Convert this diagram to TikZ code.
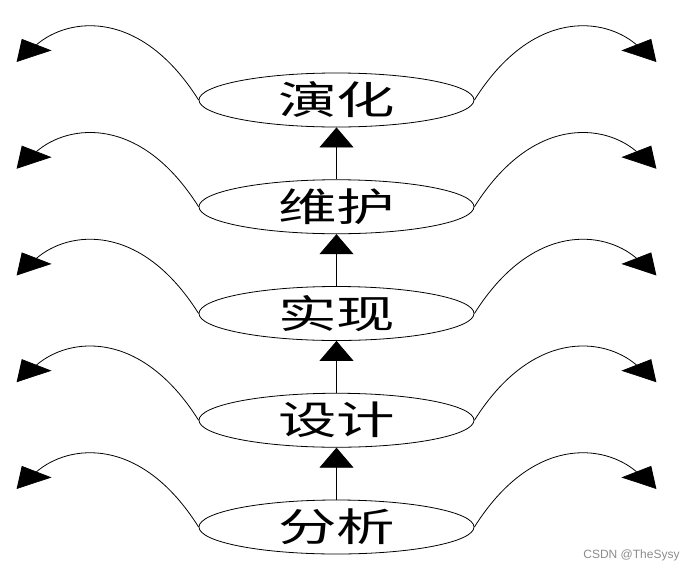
\documentclass[tikz,border=0pt]{standalone}
\usepackage{fontspec}
\usepackage{graphicx}
\newfontfamily\cjk{Noto Sans CJK SC}
\newfontfamily\wmfont{Liberation Sans}
\usetikzlibrary{shapes.geometric,arrows.meta,calc}
\newcommand{\stagetext}[1]{\scalebox{1.5}[1]{#1}}
\begin{document}
\begin{tikzpicture}[x=1pt,y=-1pt,
  stage/.style={ellipse,draw,line width=0.8pt,minimum width=275pt,minimum height=54pt,inner sep=0pt,font=\cjk\fontsize{39}{39}\selectfont},
  uparrow/.style={draw,line width=0.8pt,-{Triangle[length=20pt,width=34pt]}},
  leftarrow/.style={draw,line width=0.8pt,-{Triangle[length=26.5pt,width=28pt,slant=-0.53]}},
  rightarrow/.style={draw,line width=0.8pt,-{Triangle[length=26.5pt,width=28pt,slant=0.53]}},
  watermark/.style={font=\wmfont\fontsize{12}{12}\selectfont,text=black!45}]
\useasboundingbox (0,0) rectangle (694,571);
\node[stage] (a) at (336.5,527) {\stagetext{分析}};
\node[stage] (b) at (336.5,420.25) {\stagetext{设计}};
\node[stage] (c) at (336.5,313.5) {\stagetext{实现}};
\node[stage] (d) at (336.5,206.75) {\stagetext{维护}};
\node[stage] (e) at (336.5,100) {\stagetext{演化}};
\draw[uparrow] (a.north) -- (b.south);
\draw[uparrow] (b.north) -- (c.south);
\draw[uparrow] (c.north) -- (d.south);
\draw[uparrow] (d.north) -- (e.south);
\foreach \n in {a,b,c,d,e}{
  \coordinate (\n L) at ($(\n.west)+(-182,-38)$);
  \coordinate (\n R) at ($(\n.east)+(182,-38)$);
  \draw[leftarrow] (\n.west) .. controls ($(\n.west)+(-58,-92)$) and ($(\n L)+(52,-45)$) .. (\n L);
  \draw[rightarrow] (\n.east) .. controls ($(\n.east)+(58,-92)$) and ($(\n R)+(-52,-45)$) .. (\n R);
}
\node[watermark] (wm) at (631.5,555) {CSDN @TheSysy};
\end{tikzpicture}
\end{document}
